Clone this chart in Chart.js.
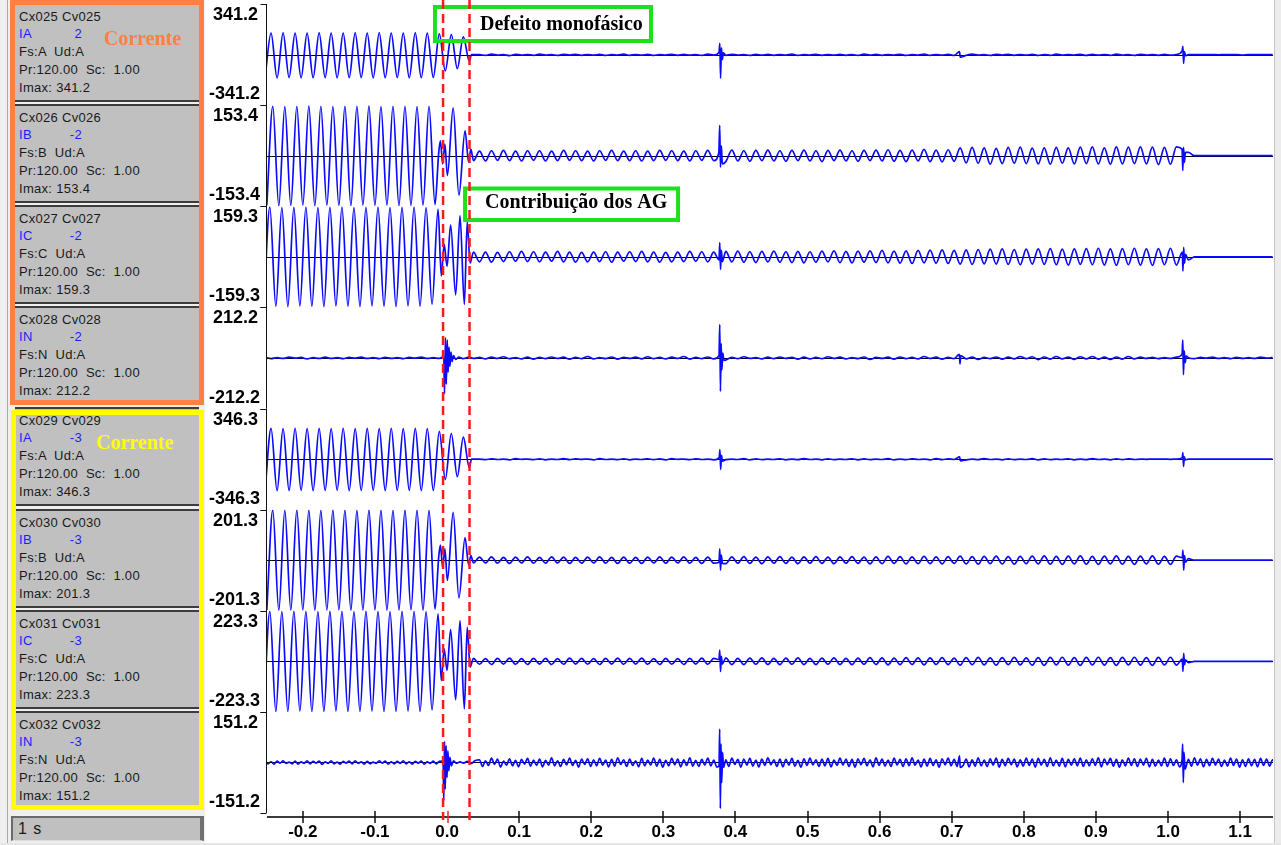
<!DOCTYPE html>
<html>
<head>
<meta charset="utf-8">
<title>Oscilografia - Corrente</title>
<script src="https://cdn.jsdelivr.net/npm/chart.js@4.4.1/dist/chart.umd.min.js"></script>
<style>
  html, body { margin: 0; padding: 0; }
  body { width: 1281px; height: 845px; position: relative; overflow: hidden; background: #fff;
         font-family: "Liberation Sans", Arial, sans-serif; }
  #side { position: absolute; left: 0; top: 0; width: 205px; height: 845px; background: #efefef; }
  #side .rule { position: absolute; left: 7px; top: 0; width: 1px; height: 845px; background: #a8a8a8; }
  .cell { position: absolute; left: 15px; width: 184px; height: 95px; background: #c0c0c0;
          border-top: 2px solid #3c3c3c; border-bottom: 2px solid #3c3c3c;
          font-size: 13px; letter-spacing: 0.3px; color: #1a1a1a; line-height: 18px; }
  .cell div { position: absolute; left: 4px; white-space: pre; }
  .cell .blue { color: #1c1cff; }
  .group { position: absolute; box-sizing: border-box; border: 5px solid; }
  .tag { position: absolute; font: bold 20px "Liberation Serif", "Times New Roman", serif; line-height: 20px; }
  #timeBox { position: absolute; left: 11px; top: 816px; width: 193px; height: 25px; box-sizing: border-box;
             background: #c0c0c0; border-top: 2px solid #6a6a6a; border-left: 2px solid #6a6a6a;
             border-right: 4px solid #707070; border-bottom: 1px solid #dcdcdc;
             font-size: 16px; letter-spacing: 1px; line-height: 21px; padding-left: 5px; color: #1a1a1a; }
  #wrap { position: absolute; left: 205px; top: 0; }
  #rightEdge { position: absolute; left: 1274px; top: 0; width: 7px; height: 845px; box-sizing: border-box;
               background: #ececec; border-left: 1px solid #c4c4c4; }
  #bottomEdge { position: absolute; left: 0; top: 843px; width: 1281px; height: 2px; background: #e6e6e6; }
</style>
</head>
<body>
<div id="side"><div class="rule"></div></div>
<div id="wrap"><canvas id="osc" width="1069" height="843"></canvas></div>
<div id="rightEdge"></div>
<div id="bottomEdge"></div>
<script>
// channel descriptors
const channelNames = ['Cx025 Cv025', 'Cx026 Cv026', 'Cx027 Cv027', 'Cx028 Cv028',
                      'Cx029 Cv029', 'Cx030 Cv030', 'Cx031 Cv031', 'Cx032 Cv032'];
const phases = ['IA', 'IB', 'IC', 'IN', 'IA', 'IB', 'IC', 'IN'];
const codes = ['2', '-2', '-2', '-2', '-3', '-3', '-3', '-3'];
const fases = ['A', 'B', 'C', 'N', 'A', 'B', 'C', 'N'];
const imax = [341.2, 153.4, 159.3, 212.2, 346.3, 201.3, 223.3, 151.2];

// time axis (s)
const xMin = -0.2497;
const xMax = 1.1456;
const xTicks = [-0.2, -0.1, 0, 0.1, 0.2, 0.3, 0.4, 0.5, 0.6, 0.7, 0.8, 0.9, 1.0, 1.1];
const faultMarks = [-0.0055, 0.0312];

// sampling: pre/post samples are taken every half cycle (60 Hz), IN of the 2nd group every quarter cycle
const sampleStep = [1 / 120, 1 / 120, 1 / 120, 1 / 120, 1 / 120, 1 / 120, 1 / 120, 1 / 240];
const preStart = [-0.2524, -0.2500, -0.2541, -0.2524, -0.2524, -0.2500, -0.2541, -0.2524];
const postStart = 0.045;

// Cx025 - IA
const cx025Pre = [-155, 145, -158, 146, -155, 144, -157, 145, -156, 146, -155, 145, -157, 144, -156, 146, -155, 145,
  -157, 146, -156, 144, -155, 145, -157, 146, -156, 144, -155, 140, -110, 135, -95, 120, -45];
const cx025Fault = [[0.034, 0]];
const cx025Post = [
  0, -6, 3, -4, 0, -7, 2, -3, 0, -5, 3, -4, 0, -6, 2, -3, 1, -5, 0, -4,
  2, -6, 0, -3, 3, -5, 0, -4, 2, -6, 0, -3, 2, -5, 1, -4, 0, -6, 3, -4,
  0, -5, 2, -3, 0, -6, 2, -4, 1, -5, 0, -4, 3, -6, 0, -3, 2, -5, 0, -4,
  2, -5, 0, -6, 3, -4, 1, -5, 0, -3, 2, -6, 0, -4, 3, -5, 0, -4, 2, -6,
  0, -5, 3, -4, 0, -6, 2, -3, 1, -5, 0, -4, 2, -6, 0, -5, 3, -4, 0, -3,
  2, -6, 1, -4, 0, -5, 3, -4, 0, -6, 2, -3, 0, -5, 1, -4, 0, -2, 0, -1,
  0, 0, 0, -2, 0, 0, 0, -3, 0, 0, 0, 0, 0];
const cx025Spikes = [[0.3772, 15], [0.3784, 75], [0.3794, -160], [0.3806, 45], [0.3818, -35], [0.3832, 12],
  [0.7108, 20], [0.7118, -18], [1.0196, 25], [1.0206, 55], [1.0216, -60], [1.0228, 20], [1.0242, -8]];

// Cx026 - IB
const cx026Pre = [-150, 150, -152, 149, -151, 150, -150, 151, -152, 150, -150, 149, -151, 150, -152, 150, -150, 151,
  -151, 149, -150, 150, -152, 150, -151, 149, -150, 150, -148];
const cx026Fault = [[-0.0115, 10], [-0.0092, 45], [-0.006, -25], [-0.003, 35], [0.0005, -60], [0.0085, 145],
  [0.0165, -120], [0.025, 75], [0.0300, -20], [0.0330, 20], [0.0367, -15]];
const cx026Post = [
  14, -16, 15, -14, 16, -15, 14, -16, 15, -14, 15, -16, 14, -15, 16, -14, 15, -15, 14, -16,
  15, -14, 16, -15, 14, -15, 15, -16, 14, -15, 16, -14, 15, -15, 14, -16, 15, -14, 16, -15,
  14, -18, 17, -16, 15, -17, 16, -15, 17, -16, 15, -17, 16, -15, 17, -16, 15, -18, 16, -15,
  17, -16, 15, -17, 16, -15, 17, -16, 18, -17, 16, -18, 17, -16, 19, -18, 17, -19, 18, -17,
  24, -22, 25, -23, 24, -26, 22, -24, 25, -23, 26, -24, 23, -25, 24, -26, 25, -23, 24, -25,
  26, -24, 27, -25, 24, -26, 27, -25, 26, -24, 27, -25, 26, -27, 25, -26, 27, -24, 10, 0,
  0, 0, 0, 0, 0, 0, 0, 0, 0, 0, 0, 0, 0];
const cx026Spikes = [[0.3770, 10], [0.3782, 92], [0.3792, -35], [0.3805, 30], [0.3818, -25],
  [1.0195, 20], [1.0205, -45], [1.0215, 25], [1.0228, -20], [1.0240, 10]];

// Cx027 - IC
const cx027Pre = [-155, 157, -156, 155, -157, 156, -155, 157, -156, 155, -157, 156, -155, 157, -156, 155, -157, 156,
  -155, 157, -156, 155, -157, 156, -155, 157, -156, 155, -150, 150];
const cx027Fault = [[-0.008, -60], [-0.004, 40], [0.0, -30], [0.005, 100], [0.012, -120], [0.018, 130],
  [0.024, -150], [0.028, 110], [0.032, -20], [0.0367, 15]];
const cx027Post = [
  -16, 15, -17, 14, -15, 16, -14, 17, -15, 16, -16, 15, -14, 17, -16, 15, -17, 14, -16, 15,
  -15, 16, -17, 15, -14, 16, -15, 17, -16, 15, -17, 14, -16, 15, -15, 17, -14, 16, -16, 15,
  -18, 17, -16, 18, -17, 16, -18, 17, -16, 18, -17, 16, -18, 17, -19, 16, -17, 18, -16, 19,
  -18, 17, -19, 18, -17, 19, -18, 20, -19, 18, -20, 19, -21, 20, -19, 21, -20, 22, -21, 20,
  -23, 22, -24, 23, -22, 24, -23, 25, -24, 23, -25, 24, -23, 25, -24, 26, -25, 24, -26, 25,
  -24, 26, -25, 27, -26, 25, -27, 26, -25, 27, -26, 25, -27, 26, -25, 27, -26, 24, -10, 0,
  0, 0, 0, 0, 0, 0, 0, 0, 0, 0, 0, 0, 0];
const cx027Spikes = [[0.3772, -10], [0.3783, 45], [0.3793, -40], [0.3805, 20], [0.3818, -15],
  [1.0198, 15], [1.0207, -45], [1.0217, 30], [1.0229, -20], [1.0242, 8]];

// Cx028 - IN
const cx028Pre = [2, -3, 1, -2, 3, -1, 2, -4, 1, -2, 3, -2, 1, -3, 2, -1, 3, -2, 1, -3,
  2, -2, 1, -3, 2, -1, 3, -2, 1, -2];
const cx028Fault = [[-0.0045, 5], [-0.0035, -150], [-0.0022, 85], [-0.001, -110], [0.0003, 75], [0.0015, -60],
  [0.0028, 45], [0.004, -35], [0.0055, 25], [0.007, -15], [0.009, 10], [0.012, -6], [0.016, 4], [0.022, -3],
  [0.03, 3], [0.038, -2]];
const cx028Post = [
  2, -4, 3, -2, 5, -3, 1, -4, 3, -5, 2, -3, 4, -2, 3, -5, 2, -3, 6, -4,
  1, -3, 4, -5, 2, -2, 3, -4, 5, -3, 2, -4, 3, -2, 6, -5, 2, -3, 4, -4,
  3, -6, 2, -3, 5, -2, 1, -4, 3, -3, 4, -2, 2, -5, 3, -4, 2, -3, 5, -2,
  3, -4, 1, -3, 4, -6, 2, -2, 3, -5, 4, -3, 2, -4, 6, -2, 3, -5, 2, -3,
  5, -4, 3, -6, 2, -3, 4, -5, 3, -4, 6, -3, 5, -7, 4, -5, 6, -4, 3, -6,
  5, -4, 6, -5, 3, -6, 4, -5, 6, -4, 3, -2, 2, -3, 1, -2, 3, -2, 1, -3,
  2, -1, 3, -2, 1, -3, 2, -2, 1, -2, 3, -1, 2];
const cx028Spikes = [[0.3772, 10], [0.3783, 140], [0.3792, -140], [0.3802, 60], [0.3812, -50], [0.3825, 20],
  [0.384, -10], [0.7105, 15], [0.7115, -25], [0.7125, 10], [1.0195, 15], [1.0205, 75], [1.0214, -70],
  [1.0225, 30], [1.0238, -20], [1.0252, 8]];

// Cx029 - IA
const cx029Pre = [-215, 210, -216, 208, -215, 211, -214, 209, -216, 210, -215, 208, -214, 211, -216, 209, -215, 210,
  -214, 208, -216, 211, -215, 209, -214, 210, -216, 208, -215, 190, -140, 175, -120, 150, -60];
const cx029Fault = [[0.034, 0]];
const cx029Post = [
  0, -4, 2, -3, 0, -5, 3, -2, 0, -4, 2, -5, 0, -3, 3, -4, 1, -2, 0, -5,
  3, -3, 0, -4, 2, -5, 0, -3, 2, -4, 1, -5, 3, -2, 0, -4, 2, -3, 0, -5,
  2, -4, 0, -3, 3, -5, 1, -4, 0, -3, 2, -5, 0, -4, 3, -3, 0, -5, 2, -4,
  0, -3, 2, -5, 1, -4, 0, -3, 3, -5, 0, -4, 2, -3, 0, -5, 3, -4, 1, -3,
  2, -5, 0, -4, 3, -3, 0, -5, 2, -4, 0, -3, 3, -5, 1, -4, 0, -3, 2, -5,
  0, -4, 3, -3, 0, -5, 2, -4, 1, -3, 0, -2, 0, -1, 0, -2, 0, 0, 0, -1,
  0, 0, 0, -1, 0, 0, 0, 0, 0, 0, 0, 0, 0];
const cx029Spikes = [[0.3775, 10], [0.3785, 65], [0.3795, -70], [0.3807, 25], [0.382, -15],
  [0.7110, 15], [0.7120, -12], [1.0198, 10], [1.0206, 45], [1.0215, -50], [1.0226, 15], [1.024, -5]];

// Cx030 - IB
const cx030Pre = [-198, 199, -200, 198, -199, 200, -198, 199, -200, 198, -199, 200, -198, 199, -200, 198, -199, 200,
  -198, 199, -200, 198, -199, 200, -198, 199, -200, 198, -195];
const cx030Fault = [[-0.0115, 15], [-0.0092, 60], [-0.006, -30], [-0.003, 45], [0.0005, -80], [0.0085, 190],
  [0.0165, -150], [0.025, 90], [0.0300, -20], [0.0330, 18], [0.0367, -11]];
const cx030Post = [
  12, -11, 13, -12, 11, -13, 12, -11, 13, -12, 11, -12, 13, -11, 12, -13, 11, -12, 12, -11,
  13, -12, 11, -13, 12, -12, 11, -13, 12, -11, 13, -12, 12, -11, 13, -12, 11, -13, 12, -12,
  11, -14, 13, -12, 14, -13, 12, -14, 13, -12, 14, -13, 12, -14, 13, -12, 14, -13, 12, -14,
  13, -12, 14, -13, 12, -15, 13, -14, 15, -13, 14, -15, 13, -14, 15, -14, 13, -15, 14, -13,
  16, -15, 14, -16, 15, -14, 16, -15, 14, -16, 15, -14, 16, -15, 17, -16, 15, -17, 16, -15,
  17, -16, 15, -17, 16, -15, 17, -16, 15, -17, 16, -15, 17, -16, 15, -17, 16, -14, 6, 0,
  0, 0, 0, 0, 0, 0, 0, 0, 0, 0, 0, 0, 0];
const cx030Spikes = [[0.3772, -8], [0.3783, 45], [0.3793, -40], [0.3805, 20], [0.3818, -12],
  [1.0198, 10], [1.0207, 40], [1.0217, -40], [1.0229, 18], [1.0242, -8]];

// Cx031 - IC
const cx031Pre = [-220, 221, -222, 220, -221, 222, -220, 221, -222, 220, -221, 222, -220, 221, -222, 220, -221, 222,
  -220, 221, -222, 220, -221, 222, -220, 221, -222, 220, -215, 210];
const cx031Fault = [[-0.008, -85], [-0.004, 55], [0.0, -40], [0.005, 140], [0.012, -170], [0.018, 180],
  [0.024, -210], [0.028, 150], [0.032, -25], [0.0367, 13]];
const cx031Post = [
  -13, 12, -14, 13, -12, 14, -13, 12, -14, 13, -12, 13, -14, 12, -13, 14, -12, 13, -13, 12,
  -14, 13, -12, 14, -13, 13, -12, 14, -13, 12, -14, 13, -13, 12, -14, 13, -12, 14, -13, 13,
  -12, 15, -14, 13, -15, 14, -13, 15, -14, 13, -15, 14, -13, 15, -14, 13, -15, 14, -13, 15,
  -14, 13, -15, 14, -13, 16, -14, 15, -16, 14, -15, 16, -14, 15, -16, 15, -14, 16, -15, 14,
  -17, 16, -15, 17, -16, 15, -17, 16, -15, 17, -16, 15, -17, 16, -18, 17, -16, 18, -17, 16,
  -18, 17, -16, 18, -17, 16, -18, 17, -16, 18, -17, 16, -18, 17, -16, 18, -17, 15, -6, 0,
  0, 0, 0, 0, 0, 0, 0, 0, 0, 0, 0, 0, 0];
const cx031Spikes = [[0.3772, 8], [0.3783, 50], [0.3793, -45], [0.3805, 22], [0.3818, -12],
  [1.0198, 10], [1.0207, -45], [1.0217, 35], [1.0229, -15], [1.0242, 6]];

// Cx032 - IN (quarter-cycle samples)
const cx032Pre = [
  3, -4, 2, -5, 4, -2, 5, -3, 1, -4, 4, -5, 2, -3, 5, -4, 3, -2, 4, -6,
  2, -3, 5, -4, 1, -5, 3, -2, 4, -4, 5, -3, 2, -5, 3, -4, 1, -3, 5, -2,
  4, -5, 2, -4, 3, -3, 5, -4, 2, -5, 3, -2, 4, -5, 2, -3, 4, -4, 3];
const cx032Fault = [[-0.0055, 4], [-0.0045, -115], [-0.0035, 63], [-0.0025, -80], [-0.0013, 50], [0.0, -45],
  [0.0012, 35], [0.0025, -25], [0.004, 15], [0.006, -10], [0.009, 5], [0.013, -3], [0.018, 2], [0.023, -2],
  [0.028, 3], [0.0335, -3], [0.0385, 5]];
const cx032Post = [
  8, -12, 5, -9, 13, -6, 10, -14, 4, -8, 11, -10, 6, -13, 9, -5, 12, -11, 7, -9,
  10, -13, 6, -8, 14, -10, 5, -12, 9, -7, 13, -9, 6, -14, 10, -6, 11, -12, 8, -10,
  12, -8, 7, -13, 9, -11, 14, -6, 8, -12, 10, -9, 5, -13, 12, -10, 7, -8, 13, -11,
  9, -14, 6, -10, 12, -7, 10, -13, 8, -9, 14, -11, 6, -12, 9, -8, 13, -10, 7, -14,
  11, -9, 8, -12, 13, -6, 9, -14, 10, -8, 12, -11, 7, -13, 10, -9, 14, -7, 8, -12,
  10, -13, 9, -8, 12, -11, 6, -14, 11, -9, 13, -7, 8, -12, 10, -10, 12, -13, 7, -9,
  13, -8, 10, -12, 9, -14, 11, -7, 12, -10, 8, -13, 14, -9, 10, -11, 7, -12, 13, -8,
  9, -12, 11, -10, 14, -8, 7, -13, 10, -11, 12, -9, 8, -14, 11, -7, 13, -10, 9, -12,
  12, -9, 10, -13, 8, -11, 14, -10, 7, -12, 11, -8, 13, -14, 9, -10, 12, -7, 10, -13,
  8, -11, 13, -9, 10, -14, 12, -8, 9, -12, 14, -10, 7, -11, 12, -13, 9, -8, 11, -10,
  13, -12, 8, -10, 11, -9, 14, -13, 10, -7, 12, -11, 9, -14, 8, -10, 13, -9, 11, -12,
  10, -8, 12, -13, 9, -11, 7, -10, 13, -12, 11, -9, 8, -13, 12, -10, 9, -11, 14, -8,
  11, -13, 9, -10, 12, -8, 10, -12, 7, -11, 13, -9, 10, -14, 8, -12, 11, -10, 9, -13,
  12, -9, 10, -11, 8, -10];
const cx032Spikes = [[0.3772, -10], [0.3782, 100], [0.3791, -138], [0.3800, 55], [0.381, -60], [0.3822, 30],
  [0.3835, -15], [0.7108, 20], [0.7118, -15], [1.0195, 10], [1.0203, 55], [1.0212, -60], [1.0222, 30],
  [1.0235, -20]];

const channelData = [
  [cx025Pre, cx025Fault, cx025Post, cx025Spikes],
  [cx026Pre, cx026Fault, cx026Post, cx026Spikes],
  [cx027Pre, cx027Fault, cx027Post, cx027Spikes],
  [cx028Pre, cx028Fault, cx028Post, cx028Spikes],
  [cx029Pre, cx029Fault, cx029Post, cx029Spikes],
  [cx030Pre, cx030Fault, cx030Post, cx030Spikes],
  [cx031Pre, cx031Fault, cx031Post, cx031Spikes],
  [cx032Pre, cx032Fault, cx032Post, cx032Spikes]
];

// merge the sampled stretches with the transient points of one channel
function buildSeries(k) {
  const [pre, fault, post, spikes] = channelData[k];
  const step = sampleStep[k];
  const pts = [];
  pre.forEach((v, i) => pts.push({ x: preStart[k] + i * step, y: v }));
  fault.forEach(([t, v]) => pts.push({ x: t, y: v }));
  post.forEach((v, i) => {
    const t = postStart + i * step;
    if (spikes.some(s => Math.abs(s[0] - t) < 0.003)) return;
    pts.push({ x: t, y: v });
  });
  spikes.forEach(([t, v]) => pts.push({ x: t, y: v }));
  pts.sort((a, b) => a.x - b.x);
  return pts;
}

// ---- side panel ----
const side = document.getElementById('side');
channelNames.forEach((name, k) => {
  const cell = document.createElement('div');
  cell.className = 'cell';
  cell.style.top = (3 + 101.1 * k) + 'px';
  cell.innerHTML =
    `<div style="top:3px">${name}</div>` +
    `<div class="blue" style="top:20px">${phases[k]}</div>` +
    `<div class="blue" style="top:20px;left:50px;width:17px;text-align:right">${codes[k]}</div>` +
    `<div style="top:38px">Fs:${fases[k]}  Ud:A</div>` +
    `<div style="top:56px">Pr:120.00  Sc:  1.00</div>` +
    `<div style="top:74px">Imax: ${imax[k].toFixed(1)}</div>`;
  side.appendChild(cell);
});
[[10, 0, 194, 405, '#ff7f45'], [11, 410, 193, 400, '#ffff00']].forEach(([l, t, w, h, c]) => {
  const g = document.createElement('div');
  g.className = 'group';
  Object.assign(g.style, { left: l + 'px', top: t + 'px', width: w + 'px', height: h + 'px', borderColor: c });
  side.appendChild(g);
});
[[104, 28, '#ff7f45'], [96, 432, '#ffff00']].forEach(([l, t, c]) => {
  const s = document.createElement('div');
  s.className = 'tag';
  Object.assign(s.style, { left: l + 'px', top: t + 'px', color: c });
  s.textContent = 'Corrente';
  side.appendChild(s);
});
const tb = document.createElement('div');
tb.id = 'timeBox';
tb.textContent = '1 s';
side.appendChild(tb);

// ---- chart ----
Chart.defaults.font.family = '"Liberation Sans", Arial, sans-serif';
const yIds = imax.map((_, k) => 'y' + k);

const scales = {
  x: {
    type: 'linear', position: 'bottom', min: xMin, max: xMax,
    afterBuildTicks: s => { s.ticks = xTicks.map(v => ({ value: v })); },
    afterFit: s => { s.height = 30; },
    ticks: {
      callback: v => v.toFixed(1), color: '#000', padding: 1, autoSkip: false, maxRotation: 0,
      font: { size: 17, weight: 'bold' }
    },
    grid: { display: false },
    border: { display: false }
  }
};
yIds.forEach((id, k) => {
  scales[id] = {
    type: 'linear', position: 'left', stack: 'osc', stackWeight: 1, weight: 8 - k,
    min: -imax[k], max: imax[k],
    afterFit: s => { s.width = 62; },
    ticks: { display: false },
    grid: { display: false },
    border: { display: false }
  };
});

function tagBox(ctx, x0, y0, x1, y1, textX, baseY, text) {
  ctx.strokeStyle = '#1fe01f';
  ctx.lineWidth = 4;
  ctx.setLineDash([]);
  ctx.strokeRect(x0 + 2, y0 + 2, x1 - x0 - 4, y1 - y0 - 4);
  ctx.fillStyle = '#000';
  ctx.font = 'bold 20px "Liberation Serif", "Times New Roman", serif';
  ctx.textAlign = 'left';
  ctx.textBaseline = 'alphabetic';
  ctx.fillText(text, textX, baseY);
}

const oscDecor = {
  id: 'oscDecor',
  beforeDatasetsDraw(chart) {
    const { ctx, chartArea: a } = chart;
    ctx.save();
    ctx.strokeStyle = '#000';
    ctx.lineWidth = 1;
    yIds.forEach(id => {
      const y0 = Math.round(chart.scales[id].getPixelForValue(0)) + 0.5;
      ctx.beginPath();
      ctx.moveTo(a.left, y0);
      ctx.lineTo(a.right, y0);
      ctx.stroke();
    });
    ctx.restore();
  },
  afterDatasetsDraw(chart) {
    const { ctx, chartArea: a } = chart;
    const xs = chart.scales.x;
    ctx.save();

    // vertical axis with band limits and zero marks
    ctx.strokeStyle = '#111';
    ctx.lineWidth = 1;
    const ax = Math.round(a.left) - 0.5;
    ctx.beginPath();
    ctx.moveTo(ax, a.top);
    ctx.lineTo(ax, a.bottom);
    yIds.forEach(id => {
      const s = chart.scales[id];
      [s.top, s.bottom].forEach(y => {
        const py = Math.round(y) + 0.5;
        ctx.moveTo(ax - 6, py);
        ctx.lineTo(ax, py);
      });
      const z = Math.round(s.getPixelForValue(0)) + 0.5;
      ctx.moveTo(ax, z);
      ctx.lineTo(ax + 6, z);
    });
    ctx.stroke();

    // band limit labels
    ctx.fillStyle = '#000';
    ctx.font = 'bold 18px "Liberation Sans", Arial, sans-serif';
    ctx.textAlign = 'right';
    ctx.textBaseline = 'alphabetic';
    yIds.forEach((id, k) => {
      const s = chart.scales[id];
      ctx.fillText(imax[k].toFixed(1), a.left - 9, s.top + 16);
      ctx.fillText((-imax[k]).toFixed(1), a.left - 7, s.bottom - 6);
    });

    // time axis
    const yAx = a.bottom + 4;
    ctx.strokeStyle = '#3a3a3a';
    ctx.lineWidth = 2;
    ctx.beginPath();
    ctx.moveTo(a.left, yAx);
    ctx.lineTo(a.right, yAx);
    ctx.stroke();
    ctx.strokeStyle = '#111';
    ctx.lineWidth = 1.5;
    ctx.beginPath();
    xTicks.forEach(v => {
      if (v === 0) return;
      const px = Math.round(xs.getPixelForValue(v));
      ctx.moveTo(px, yAx - 6);
      ctx.lineTo(px, yAx + 6);
    });
    ctx.stroke();
    ctx.strokeStyle = '#ff2020';
    ctx.beginPath();
    const p0 = Math.round(xs.getPixelForValue(0)) + 1;
    ctx.moveTo(p0, yAx - 6);
    ctx.lineTo(p0, yAx + 6);
    ctx.stroke();

    // annotations
    tagBox(ctx, xs.getPixelForValue(-0.0195), 5, xs.getPixelForValue(0.2857), 43,
      xs.getPixelForValue(0.0458), 30, 'Defeito monofásico');
    tagBox(ctx, xs.getPixelForValue(0.0222), 186.5, xs.getPixelForValue(0.3232), 222,
      xs.getPixelForValue(0.0527), 208, 'Contribuição dos AG');

    // fault start / clearing markers
    ctx.strokeStyle = '#ff1a1a';
    ctx.lineWidth = 2.5;
    ctx.setLineDash([9, 5]);
    faultMarks.forEach(t => {
      const px = xs.getPixelForValue(t);
      ctx.beginPath();
      ctx.moveTo(px, 0);
      ctx.lineTo(px, a.bottom + 7);
      ctx.stroke();
    });
    ctx.restore();
  }
};

new Chart(document.getElementById('osc'), {
  type: 'line',
  data: {
    datasets: imax.map((_, k) => ({
      data: buildSeries(k),
      yAxisID: yIds[k],
      xAxisID: 'x',
      borderColor: '#0a0aff',
      borderWidth: 1.7,
      pointRadius: 0,
      fill: false,
      cubicInterpolationMode: 'monotone'
    }))
  },
  options: {
    responsive: false,
    animation: false,
    events: [],
    layout: { padding: { top: 4, right: 1, left: 0, bottom: 0 } },
    scales: scales,
    plugins: { legend: { display: false }, tooltip: { enabled: false } }
  },
  plugins: [oscDecor]
});
</script>
</body>
</html>
